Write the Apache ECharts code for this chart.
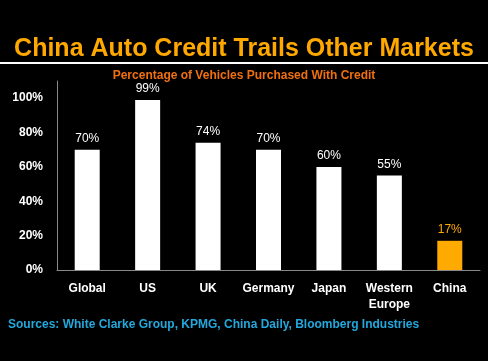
<!DOCTYPE html>
<html><head><meta charset="utf-8">
<script src="https://cdn.jsdelivr.net/npm/echarts@6/dist/echarts.min.js"></script>
<style>html,body{margin:0;padding:0;background:#000;}#c{width:488px;height:361px;}</style>
</head><body><div id="c"></div>
<script>
const categories = ['Global', 'US', 'UK', 'Germany', 'Japan', 'Western\nEurope', 'China'];
const values = [70, 99, 74, 70, 60, 55, 17];
const highlight = 'China';
const yTicks = [0, 20, 40, 60, 80, 100];

const chart = echarts.init(document.getElementById('c'), null, {renderer: 'canvas'});
const FONT = 'Liberation Sans, Arial, sans-serif';
chart.setOption({
  backgroundColor: '#000',
  animation: false,
  title: [{
    text: 'China Auto Credit Trails Other Markets',
    left: 'center', top: 32,
    textStyle: {color: '#FFA800', fontSize: 25, fontWeight: 'bold', fontFamily: FONT}
  }, {
    text: 'Percentage of Vehicles Purchased With Credit',
    left: 'center', top: 65,
    textStyle: {color: '#F07010', fontSize: 12, fontWeight: 'bold', fontFamily: FONT}
  }, {
    text: 'Sources: White Clarke Group, KPMG, China Daily, Bloomberg Industries',
    left: 3, top: 314,
    textStyle: {color: '#22A8DC', fontSize: 12, fontWeight: 'bold', fontFamily: FONT}
  }],
  graphic: [{
    type: 'rect', shape: {x: 0, y: 62, width: 488, height: 2},
    style: {fill: '#fff'}
  }],
  grid: {left: 57, right: 8, top: 81, bottom: 91, containLabel: false},
  xAxis: {
    type: 'category', data: categories,
    axisLine: {lineStyle: {color: '#888', width: 1}},
    axisTick: {show: false},
    axisLabel: {interval: 0, color: '#fff', fontWeight: 'bold', fontSize: 12, fontFamily: FONT, margin: 11, lineHeight: 16, verticalAlign: 'top'}
  },
  yAxis: {
    type: 'value', min: 0, max: 110, interval: 20,
    splitLine: {show: false},
    axisLine: {show: true, lineStyle: {color: '#888', width: 1}},
    axisTick: {show: false},
    axisLabel: {
      color: '#fff', fontWeight: 'bold', fontSize: 12, fontFamily: FONT, margin: 14,
      formatter: v => yTicks.includes(v) ? v + '%' : ''
    }
  },
  series: [{
    type: 'bar', barWidth: 25,
    data: values.map((v, i) => ({
      value: v,
      itemStyle: {color: categories[i] === highlight ? '#FFAA00' : '#fff'},
      label: {color: categories[i] === highlight ? '#FFAA00' : '#fff'}
    })),
    label: {show: true, position: 'top', formatter: '{c}%', fontSize: 12, fontFamily: FONT, distance: 5}
  }]
});
</script></body></html>
